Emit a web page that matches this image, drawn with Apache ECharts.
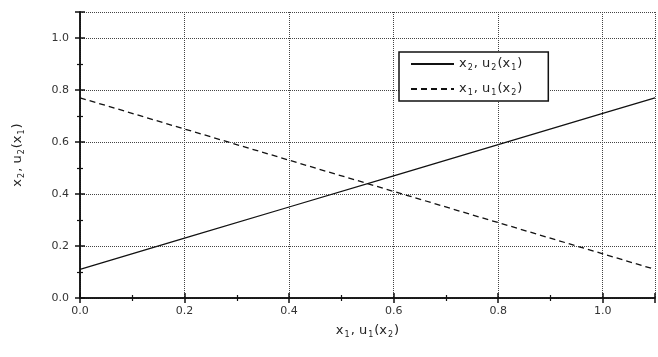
<!DOCTYPE html>
<html><head><meta charset="utf-8">
<script src="https://cdn.jsdelivr.net/npm/echarts@6/dist/echarts.min.js"></script>
<style>html,body{margin:0;padding:0;background:#fff}#c{width:658px;height:357px}</style>
</head><body><div id="c"></div>
<script>
var xValues = [0.0, 0.2, 0.4, 0.6, 0.8, 1.0, 1.1];
var solidValues = [0.11, 0.23, 0.35, 0.47, 0.59, 0.71, 0.77];
var dashedValues = [0.77, 0.65, 0.53, 0.41, 0.29, 0.17, 0.11];
var seriesNames = ['{n|x}{s|2}{n|, u}{s|2}{n|(x}{s|1}{n|)}', '{n|x}{s|1}{n|, u}{s|1}{n|(x}{s|2}{n|)}'];
var xAxisName = '{n|x}{s|1}{n|, u}{s|1}{n|(x}{s|2}{n|)}';
var yAxisName = '{n|x}{s|2}{n|, u}{s|2}{n|(x}{s|1}{n|)}';

var FONT = 'DejaVu Sans';
function rich(fs) {
  return {
    n: {fontFamily: FONT, fontSize: fs, color: '#222', lineHeight: 18, verticalAlign: 'middle'},
    s: {fontFamily: FONT, fontSize: Math.round(fs * 0.62), color: '#222', lineHeight: 18, padding: [8, 1, 0, 1], verticalAlign: 'middle'}
  };
}
var chart = echarts.init(document.getElementById('c'), null, {renderer: 'canvas'});
function mkSeries(name, vals, type) {
  return {
    name: name, type: 'line', symbol: 'none', showSymbol: false, animation: false,
    color: '#111',
    data: xValues.map(function (x, i) { return [x, vals[i]]; }),
    lineStyle: {color: '#111', width: 1.3, type: type}
  };
}
var axisCommon = {
  type: 'value', min: 0, max: 1.1, interval: 0.2,
  axisLine: {show: true, lineStyle: {color: '#111', width: 1.5}},
  axisTick: {show: true, inside: true, length: 5, lineStyle: {color: '#111', width: 1.5}},
  minorTick: {show: true, splitNumber: 2, length: 3, lineStyle: {color: '#111', width: 1.2}},
};
var tickLabel = {fontFamily: FONT, fontSize: 11, color: '#333',
  formatter: function (v) { return v > 1.05 ? '' : v.toFixed(1); }};
chart.setOption({
  animation: false,
  backgroundColor: '#fff',
  grid: {left: 80, right: 3, top: 12, bottom: 59},
  legend: {
    left: 399, top: 52, orient: 'vertical',
    backgroundColor: '#fff',
    borderColor: '#111', borderWidth: 1.5, padding: [4, 26, 4, 11],
    itemWidth: 43, itemHeight: 14, itemGap: 9,
    itemStyle: {opacity: 0},
    textStyle: {rich: rich(13)},
    data: seriesNames
  },
  xAxis: [
    Object.assign({}, axisCommon, {
      position: 'bottom',
      name: xAxisName, nameLocation: 'middle', nameGap: 24,
      nameTextStyle: {rich: rich(13)},
      axisLabel: Object.assign({margin: 8}, tickLabel),
      splitLine: {show: true, lineStyle: {color: '#444', width: 1, type: [1, 1]}}
    }),
    Object.assign({}, axisCommon, {position: 'top', axisLabel: {show: false}, splitLine: {show: false}})
  ],
  yAxis: [
    Object.assign({}, axisCommon, {
      position: 'left',
      name: yAxisName, nameLocation: 'middle', nameGap: 53, nameRotate: 90,
      nameTextStyle: {rich: rich(13)},
      axisLabel: Object.assign({margin: 11}, tickLabel),
      splitLine: {show: true, lineStyle: {color: '#444', width: 1, type: [1, 1]}}
    }),
    Object.assign({}, axisCommon, {position: 'right', axisLabel: {show: false}, splitLine: {show: false}})
  ],
  series: [
    mkSeries(seriesNames[0], solidValues, 'solid'),
    mkSeries(seriesNames[1], dashedValues, [6, 4])
  ]
});
</script></body></html>
